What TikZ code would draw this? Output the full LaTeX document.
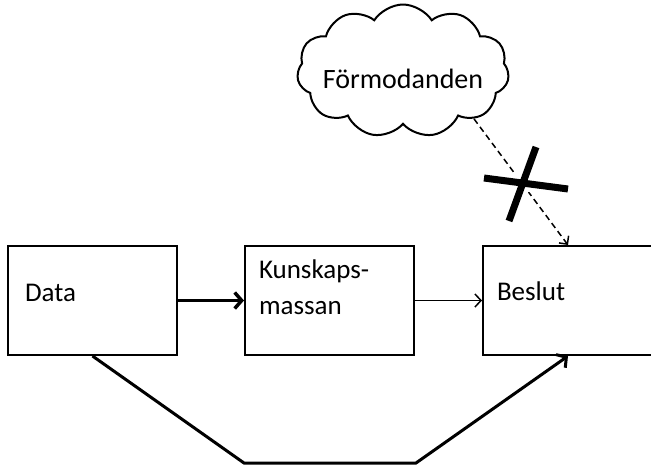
\documentclass[tikz,border=0pt]{standalone}
\usepackage{fontspec}
\setmainfont{Carlito}
\usetikzlibrary{arrows.meta, positioning, shapes.symbols}
\tikzset{%
	box/.style={draw, line width=2pt, rectangle, minimum height=109pt, align=left,%
		inner ysep=0pt, font=\fontsize{27}{36}\selectfont},
	idea/.style={draw, cloud, cloud puffs=11, cloud puff arc=115, aspect=1.6, line width=2pt,%
		minimum width=212pt, minimum height=133pt, inner sep=0pt, font=\fontsize{28}{34}\selectfont},
	flow/.style={-{Straight Barb[length=7pt, width=16pt]}, line width=3.5pt},
	thinflow/.style={-{Straight Barb[length=6pt, width=13pt]}, line width=1.5pt},
	doubt/.style={-{Straight Barb[length=6pt, width=12pt]}, line width=1.5pt, dash pattern=on 6pt off 4pt},
	veto/.style={line width=7pt, preaction={draw=white, line width=16pt}}
}

\begin{document}
\begin{tikzpicture}[x=1pt, y=-1pt]
	\useasboundingbox (0,0) rectangle (651,464);

	\node[box, text width=135pt, inner xsep=17pt, text height=17pt, text depth=16pt] (data) at (92.5,300.5) {Data};
	\node[box, text width=141pt, inner xsep=14pt, text height=17pt, text depth=62pt, right=66pt of data] (kunskap) {Kunskaps-\\massan};
	\node[box, text width=142pt, inner xsep=14pt, text height=17pt, text depth=17pt, right=67pt of kunskap] (beslut) {Beslut};
	\node[idea, text height=34pt, text depth=0pt] (cloud) at (403,71) {\makebox[110pt]{Förmodanden}};

	\coordinate (lowl) at (244,463);
	\coordinate (lowr) at (416,463);
	\coordinate (xa1) at (484,178);
	\coordinate (xa2) at (568,189);
	\coordinate (xb1) at (536,147);
	\coordinate (xb2) at (509,221);

	\draw[flow] (data) -- (kunskap);
	\draw[thinflow] (kunskap) -- (beslut);
	\draw[flow, line width=3pt] (data.south) -- (lowl) -- (lowr) -- (beslut.south);
	\draw[doubt] (cloud.-34) -- (beslut.north);
	\draw[veto] (xa1) -- (xa2) (xb1) -- (xb2);
\end{tikzpicture}
\end{document}
